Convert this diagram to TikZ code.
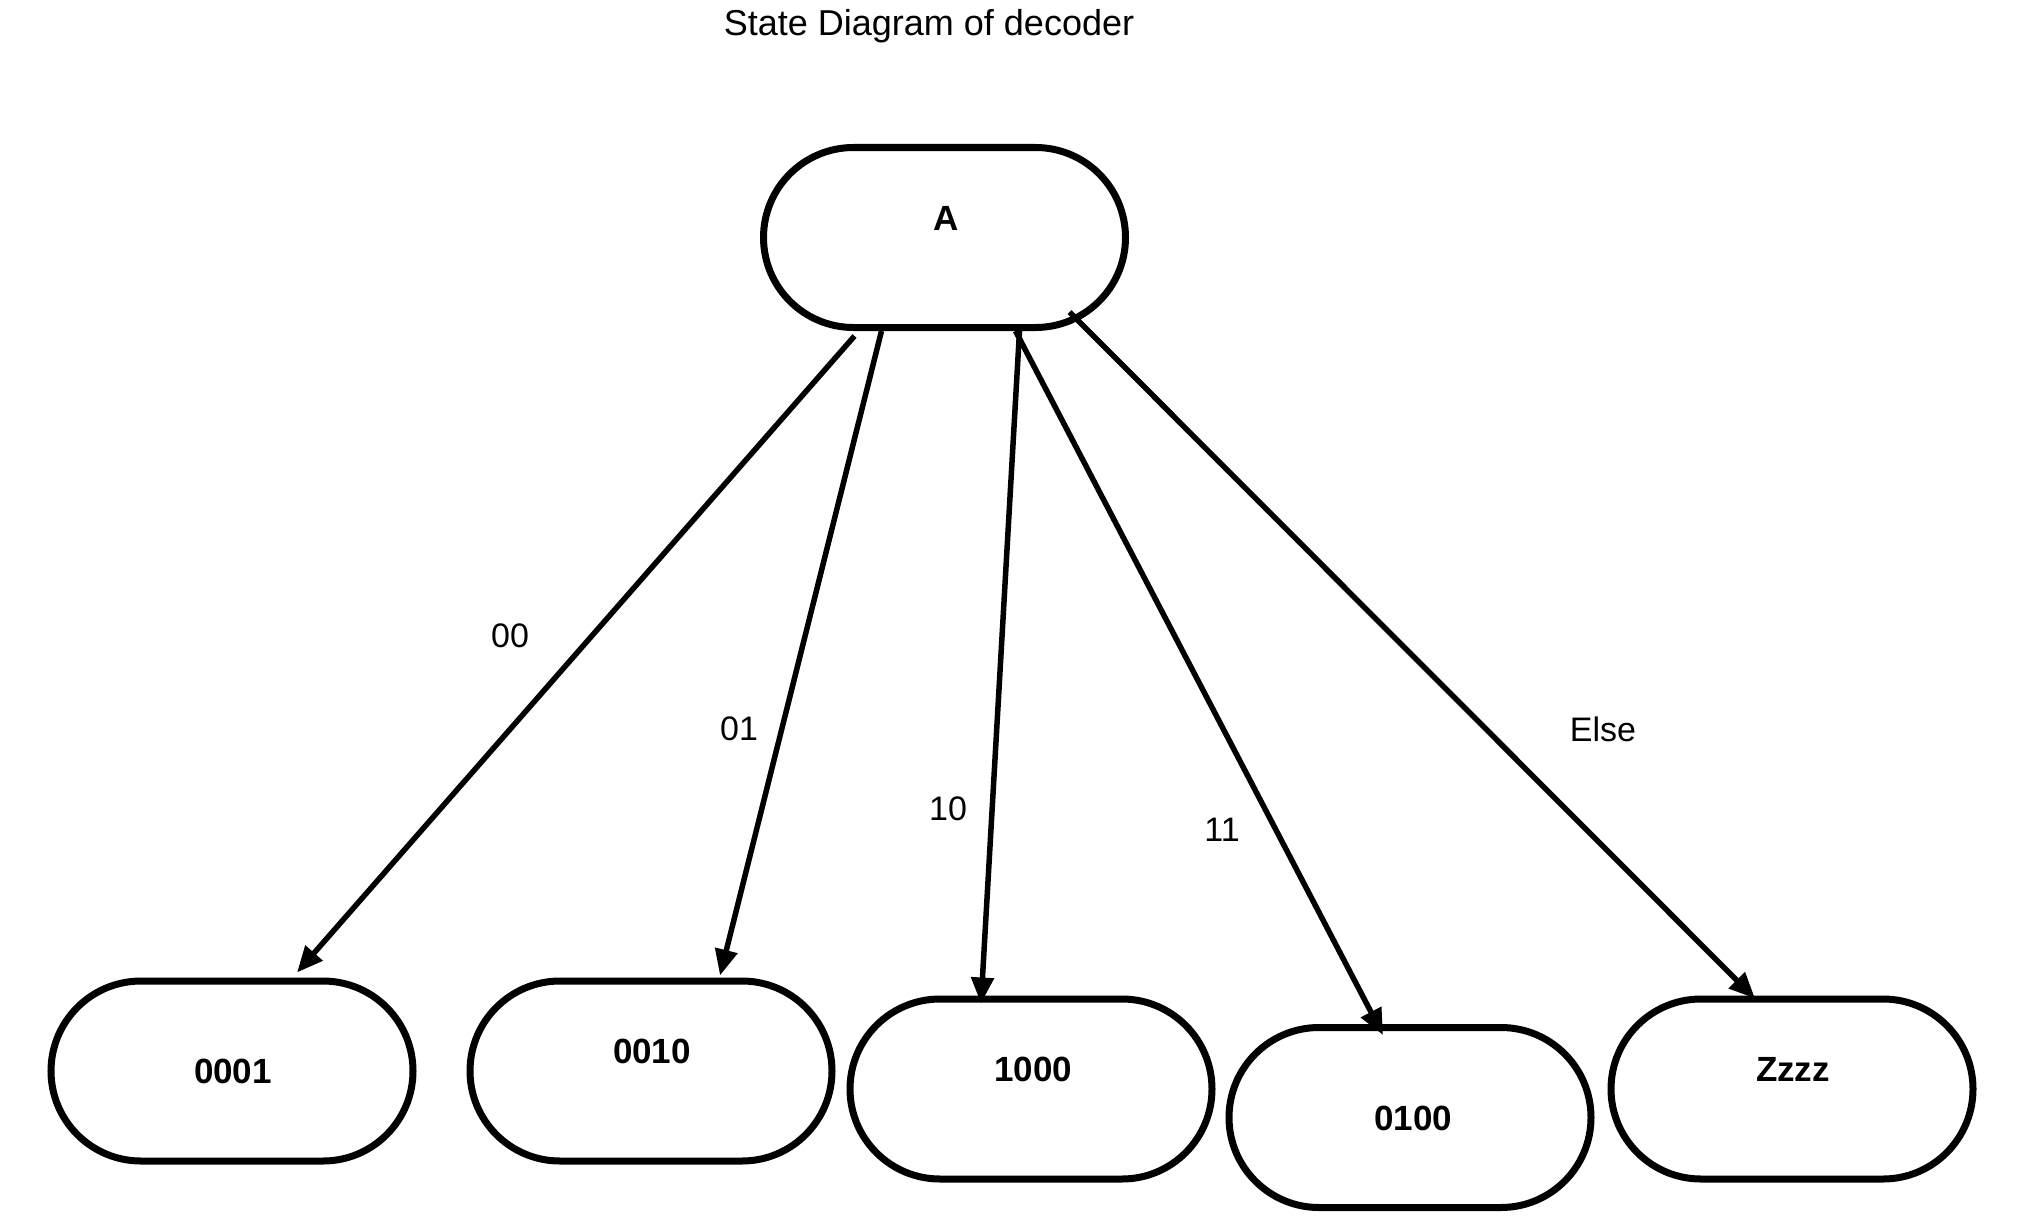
\documentclass[tikz,border=0pt]{standalone}
\usepackage{fontspec}
\setmainfont{Liberation Sans}
\usetikzlibrary{arrows.meta,calc}
\begin{document}
\begin{tikzpicture}[x=1pt,y=-1pt,
  state/.style={draw=black,line width=7pt,rounded corners=90pt,minimum width=362pt,minimum height=180pt,inner sep=0pt,fill=white},
  slabel/.style={font=\fontsize{35}{40}\selectfont\bfseries,inner sep=0pt},
  elabel/.style={font=\fontsize{34}{40}\selectfont,inner sep=0pt},
  trans/.style={line width=5.5pt,-{Triangle[length=26pt,width=22pt]}}]
\useasboundingbox (0,0) rectangle (2034,1220);
\node[font=\fontsize{36}{42}\selectfont,inner sep=0pt] (title) at (929,26) {State Diagram of decoder};

\node[state] (A) at (944.5,237.5) {};
\node[slabel] (tA) at (946,218) {A};

\node[state] (s0001) at (232,1071) {};
\node[slabel] (t0001) at (233,1071) {0001};
\node[state] (s0010) at (651,1071) {};
\node[slabel] (t0010) at (652,1051) {0010};
\node[state] (s1000) at (1031,1089) {};
\node[slabel] (t1000) at (1033,1069) {1000};
\node[state] (s0100) at (1410,1117.5) {};
\node[slabel] (t0100) at (1413,1118) {0100};
\node[state] (sZ) at (1792,1089) {};
\node[slabel] (tZ) at (1793,1069) {Zzzz};

\coordinate (o00) at ($(A.south)+(-90,5)$);
\coordinate (o01) at ($(A.south)+(-63,0)$);
\coordinate (o10) at ($(A.south)+(75,0)$);
\coordinate (o11) at ($(A.south)+(71,0)$);
\coordinate (oE) at ($(A.south)+(125,-19)$);

\draw[trans] (o00) -- ($(s0001.north)+(65,-5)$);
\draw[trans] (o01) -- ($(s0010.north)+(69,-2)$);
\draw[trans] (o10) -- ($(s1000.north)+(-50,8)$);
\draw[trans] (o11) -- ($(s0100.north)+(-27,11)$);
\draw[trans] (oE) -- ($(sZ.north)+(-37,3)$);

\node[elabel] (l00) at (510,636) {00};
\node[elabel] (l01) at (739,729) {01};
\node[elabel] (l10) at (948,809) {10};
\node[elabel] (l11) at (1222,830) {11};
\node[elabel] (lE) at (1603,729) {Else};
\end{tikzpicture}
\end{document}
